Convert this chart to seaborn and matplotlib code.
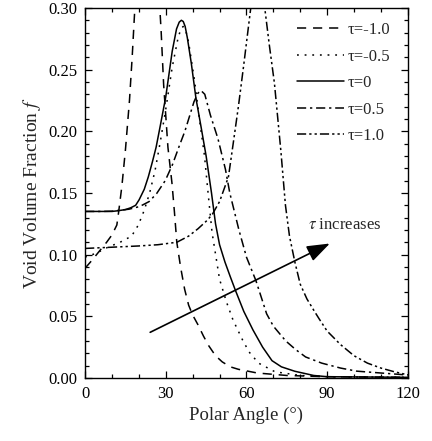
import numpy as np
import pandas as pd
import matplotlib
matplotlib.use("Agg")
import matplotlib.pyplot as plt
import seaborn as sns
from matplotlib.ticker import MultipleLocator, FormatStrFormatter

# ---------------------------- DATA --------------------

TAU_LABELS = ["τ=-1.0", "τ=-0.5", "τ=0", "τ=0.5", "τ=1.0"]

# tau = -1.0 (dashed), peak runs off the top of the axes
ANGLE_M10 = [0, 2.8, 5, 8, 10, 11.8, 12.5, 13.7, 15, 16.5, 17.5, 18.5, 19.5,
             27, 28.3, 29.2, 30.8, 32.3, 33.2, 34.1, 35.5, 37, 38.5, 40, 42,
             44, 46, 48.5, 51, 54, 57, 64, 75, 90, 120]
FRAC_M10 = [0.089, 0.096, 0.102, 0.110, 0.116, 0.124, 0.135, 0.156, 0.185,
            0.225, 0.260, 0.300, 0.330, 0.330, 0.280, 0.238, 0.187, 0.158,
            0.135, 0.110, 0.090, 0.072, 0.059, 0.051, 0.043, 0.034, 0.026,
            0.018, 0.013, 0.009, 0.007, 0.004, 0.002, 0.001, 0.0005]

# tau = -0.5 (dotted)
ANGLE_M05 = [0, 4, 8.5, 13, 17.3, 19.8, 22, 24, 26, 28, 30, 32.4, 34.5, 35.6,
             36.5, 37.4, 38.5, 40.7, 42.5, 44.4, 45.5, 47.2, 50, 52.5, 55, 58.5,
             61, 64.5, 70.6, 80, 90, 120]
FRAC_M05 = [0.098, 0.101, 0.106, 0.110, 0.115, 0.124, 0.136, 0.150, 0.168,
            0.192, 0.218, 0.252, 0.275, 0.283, 0.285, 0.282, 0.272, 0.241,
            0.210, 0.180, 0.155, 0.118, 0.080, 0.062, 0.047, 0.031, 0.021,
            0.012, 0.005, 0.002, 0.001, 0.0005]

# tau = 0 (solid)
ANGLE_00 = [0, 6, 10, 12, 15, 17, 18.8, 20.1, 22, 23.5, 25, 26.4, 28, 30,
            32.4, 34, 35, 35.8, 36.5, 37.2, 38, 39.5, 41.2, 43, 45, 47, 48.5,
            50, 52, 54, 55.9, 59, 62.4, 66, 69.5, 73, 78, 85, 90, 120]
FRAC_00 = [0.135, 0.135, 0.135, 0.1355, 0.1365, 0.138, 0.140, 0.1445, 0.153,
           0.163, 0.175, 0.187, 0.205, 0.228, 0.265, 0.283, 0.2885, 0.290,
           0.2890, 0.285, 0.276, 0.255, 0.227, 0.205, 0.180, 0.150, 0.125,
           0.108, 0.094, 0.082, 0.071, 0.054, 0.039, 0.025, 0.014, 0.009,
           0.0054, 0.002, 0.001, 0.0005]

# tau = 0.5 (dash-dot)
ANGLE_P05 = [0, 6, 10, 13, 16.3, 20.3, 23.8, 26.6, 29.8, 32.5, 35, 37.1, 38.8,
             40.5, 42, 43.1, 44.5, 46.6, 49.4, 52.2, 53.8, 55.5, 57.2, 60,
             63.5, 67.5, 70, 74.6, 78.3, 82, 88, 95, 101, 110, 118, 120]
FRAC_P05 = [0.135, 0.135, 0.1352, 0.136, 0.1368, 0.139, 0.143, 0.1495, 0.160,
            0.173, 0.188, 0.200, 0.212, 0.224, 0.231, 0.233, 0.230, 0.213,
            0.194, 0.169, 0.150, 0.135, 0.120, 0.098, 0.079, 0.052, 0.042,
            0.030, 0.023, 0.017, 0.012, 0.008, 0.0055, 0.004, 0.0027, 0.0025]

# tau = 1.0 (dash-dot-dot), peak runs off the top of the axes
ANGLE_P10 = [0, 10, 19.9, 27, 34.1, 38.5, 42, 45.5, 47.4, 50, 53.3, 55, 57, 59,
             61.6, 62.5, 66, 66.8, 68.5, 70.4, 72.8, 74.5, 76, 78, 80, 82.5,
             85, 87, 90, 95, 100, 105, 110, 115, 120]
FRAC_P10 = [0.105, 0.106, 0.107, 0.108, 0.110, 0.115, 0.121, 0.128, 0.133,
            0.143, 0.163, 0.189, 0.220, 0.254, 0.300, 0.320, 0.320, 0.300,
            0.270, 0.239, 0.184, 0.140, 0.115, 0.094, 0.076, 0.064, 0.055,
            0.048, 0.038, 0.027, 0.018, 0.012, 0.008, 0.005, 0.0025]

X_TICKS = [0, 30, 60, 90, 120]

# arrow "tau increases": tail and head in data coordinates
ARROW_TAIL = (24.2, 0.037)
ARROW_HEAD = (91.0, 0.109)

LINE_DASHES = {
    "τ=-1.0": (6, 4.5),
    "τ=-0.5": (1.2, 3.8),
    "τ=0": "",
    "τ=0.5": (6, 2.5, 1.5, 2.5),
    "τ=1.0": (6, 2, 1.5, 2, 1.5, 2),
}


def build_frame():
    series = [
        (ANGLE_M10, FRAC_M10),
        (ANGLE_M05, FRAC_M05),
        (ANGLE_00, FRAC_00),
        (ANGLE_P05, FRAC_P05),
        (ANGLE_P10, FRAC_P10),
    ]
    parts = []
    for label, (ang, frac) in zip(TAU_LABELS, series):
        parts.append(pd.DataFrame({"angle": ang, "frac": frac, "tau": label}))
    return pd.concat(parts, ignore_index=True)


def main():
    sns.set_style("ticks")
    plt.rcParams["font.family"] = ["Liberation Serif", "DejaVu Serif"]
    plt.rcParams["mathtext.fontset"] = "stix"

    df = build_frame()

    fig = plt.figure(figsize=(4.32, 4.41), dpi=100)
    ax = fig.add_axes([0.197, 0.143, 0.747, 0.839])

    sns.lineplot(
        data=df, x="angle", y="frac", style="tau", style_order=TAU_LABELS,
        dashes=LINE_DASHES, color="black", linewidth=1.1, estimator=None,
        sort=False, ax=ax,
    )

    ax.set_xlim(0, 120)
    ax.set_ylim(0, 0.30)
    ax.set_xticks(X_TICKS)
    ax.xaxis.set_minor_locator(MultipleLocator(10))
    ax.yaxis.set_major_locator(MultipleLocator(0.05))
    ax.yaxis.set_minor_locator(MultipleLocator(0.01))
    ax.yaxis.set_major_formatter(FormatStrFormatter("%.2f"))
    ax.tick_params(which="both", direction="in", top=True, right=True,
                   colors="black", labelsize=12, width=0.9)
    ax.tick_params(which="major", length=5)
    ax.tick_params(which="minor", length=3)
    ax.tick_params(axis="x", which="major", pad=6)
    ax.tick_params(axis="y", which="major", pad=5.5)
    for sp in ax.spines.values():
        sp.set_color("black")
        sp.set_linewidth(1.0)

    ax.set_xlabel("Polar Angle (°)", fontsize=13.5, labelpad=3)
    ax.set_ylabel(r"Void Volume Fraction $f$", fontsize=14, labelpad=4)

    handles, labels = ax.get_legend_handles_labels()
    ax.legend(handles, labels, loc="upper right", bbox_to_anchor=(0.965, 0.98),
              frameon=False, fontsize=12, handlelength=2.8, handletextpad=0.2,
              labelspacing=0.63, borderaxespad=0.0)

    ax.annotate("", xy=ARROW_HEAD, xytext=ARROW_TAIL,
                arrowprops=dict(arrowstyle="-|>,head_length=0.7,head_width=0.25",
                                color="black", lw=1.2, mutation_scale=20,
                                shrinkA=0, shrinkB=0))
    ax.text(96.5, 0.124, r"$\tau$ increases", ha="center", va="center",
            fontsize=12)

    fig.savefig("out.png", dpi=100)
    plt.close(fig)


if __name__ == "__main__":
    main()
